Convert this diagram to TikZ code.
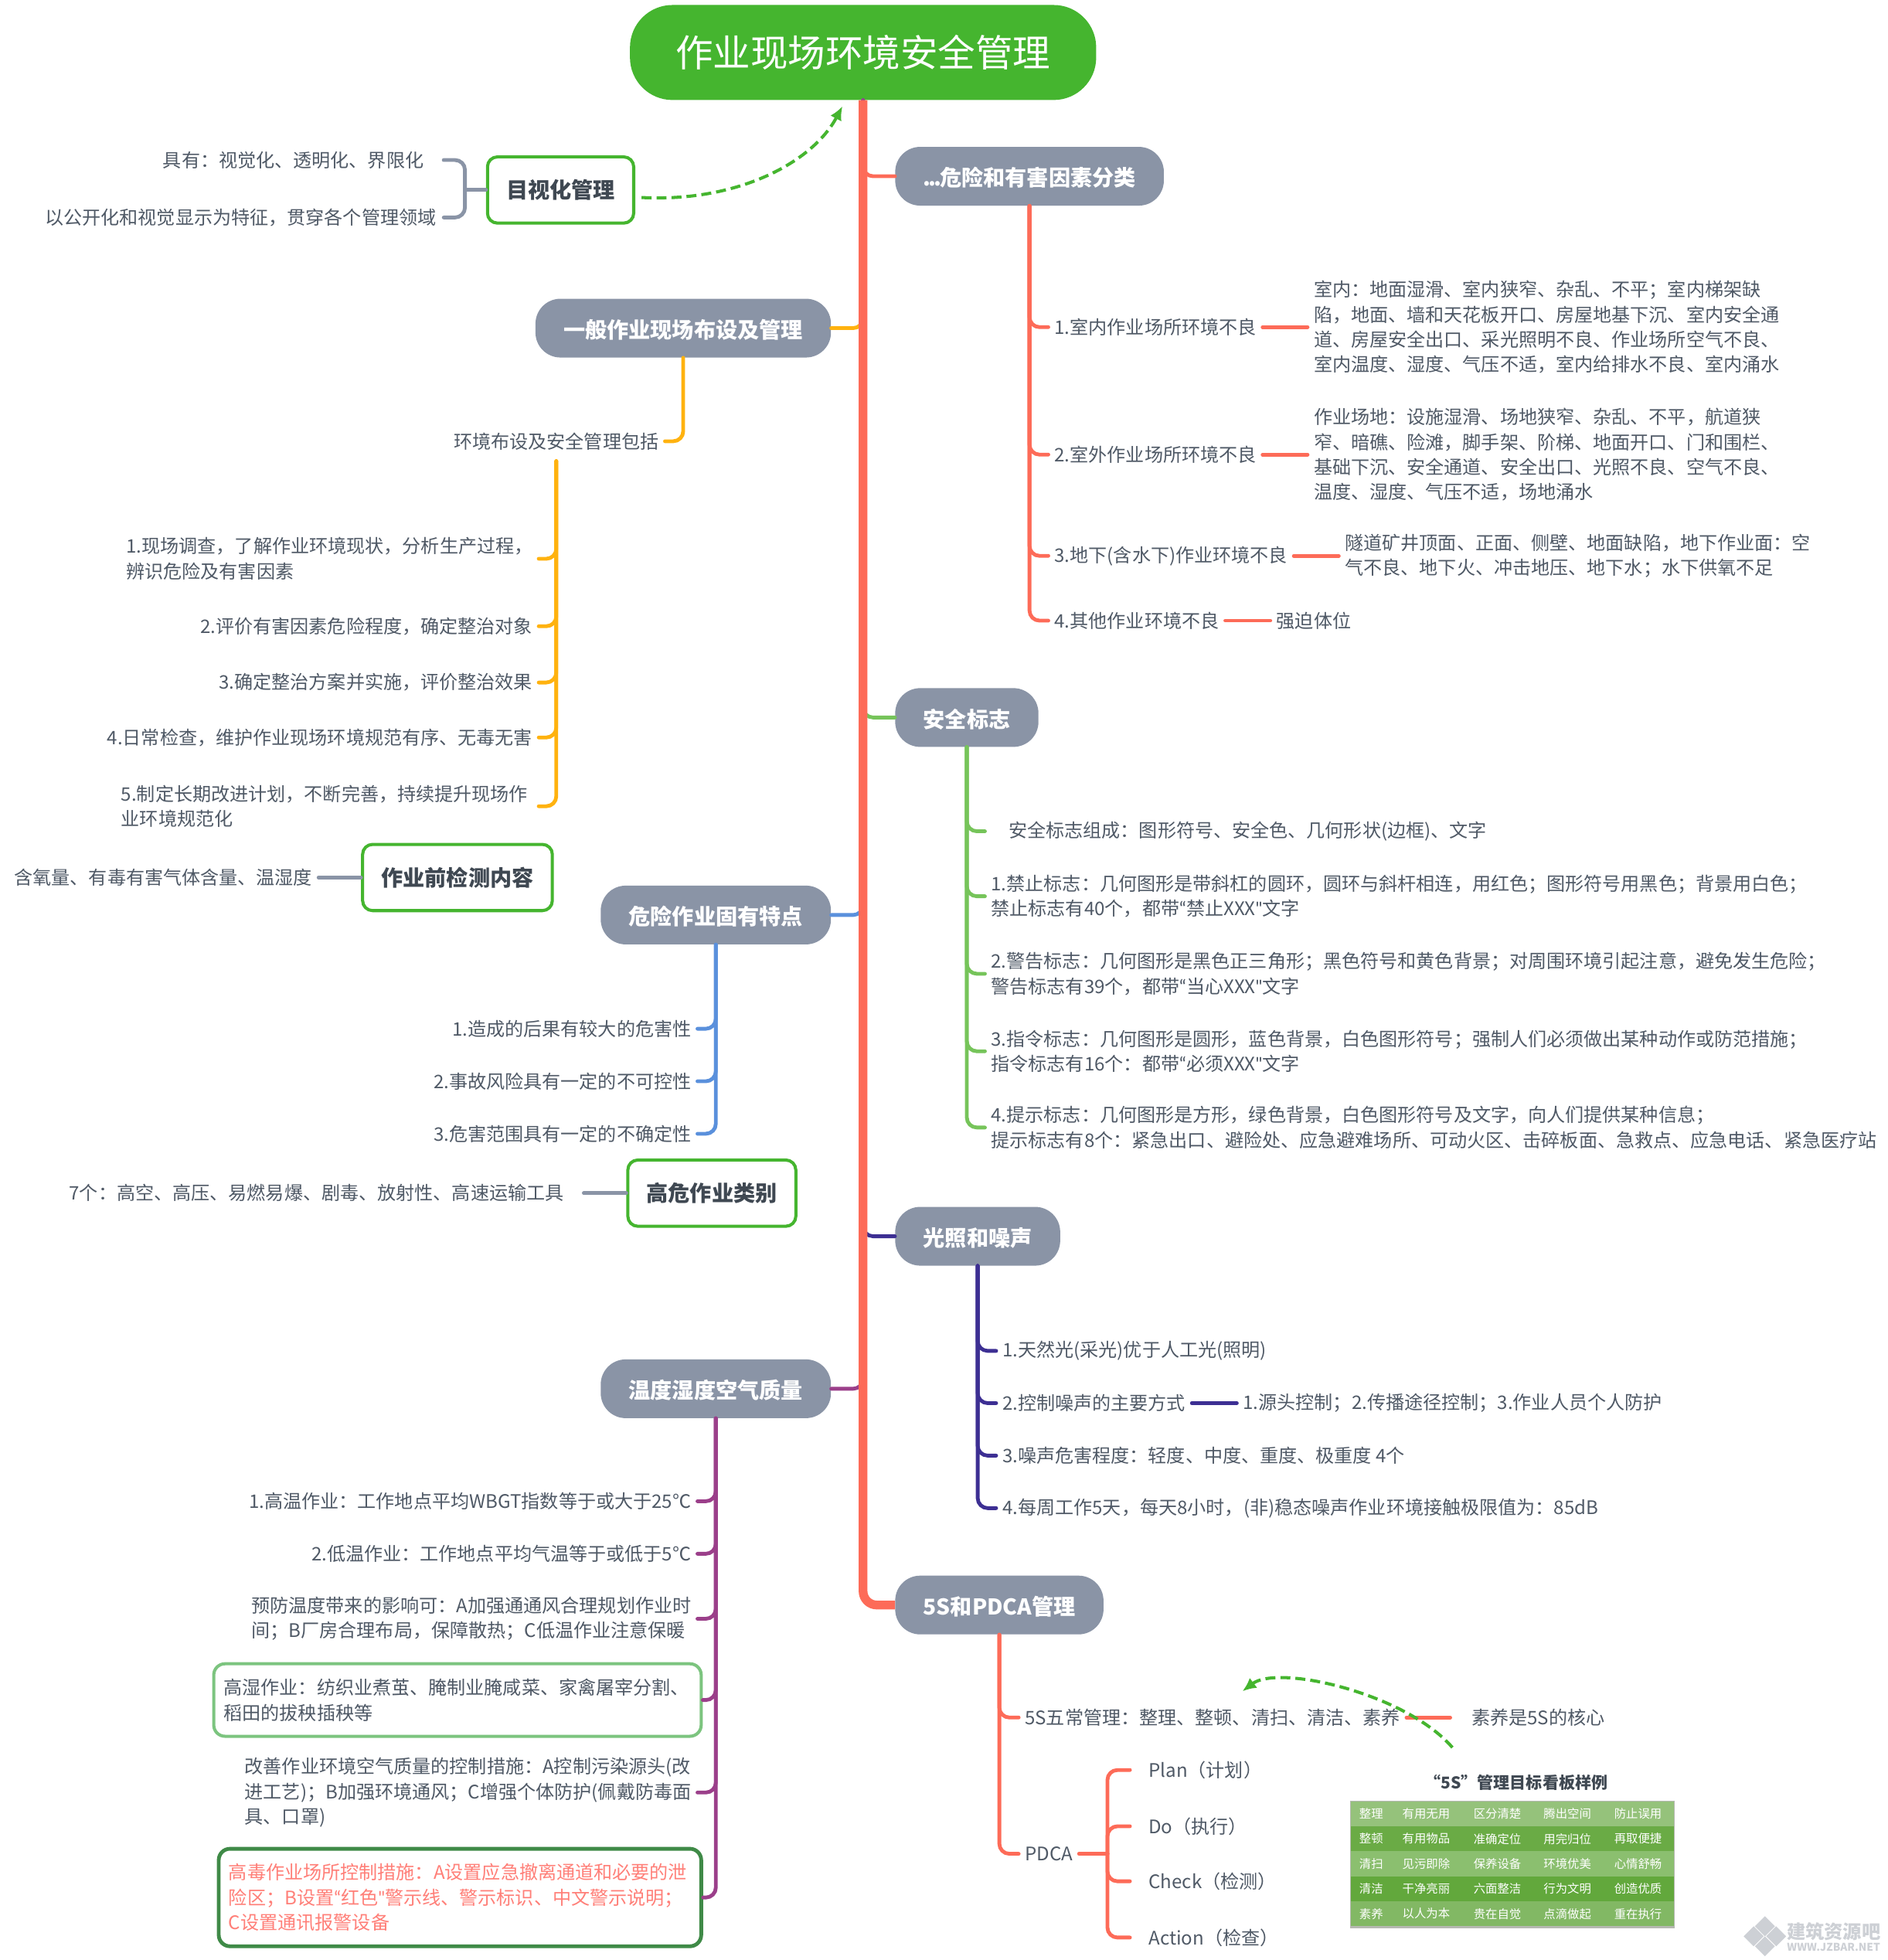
\documentclass[tikz,border=0pt]{standalone}
\usepackage{fontspec}
\setmainfont{Noto Sans CJK SC}
\newfontfamily\quotefont{Lato}
\newcommand{\openmark}{{\quotefont “}}
\newcommand{\closemark}{{\quotefont "}}
\usetikzlibrary{arrows.meta,positioning}

\definecolor{rootgreen}{HTML}{45B52F}
\definecolor{topicgray}{HTML}{8A94A6}
\definecolor{inktext}{HTML}{4F5966}
\definecolor{inkdark}{HTML}{3F4852}
\definecolor{trunkred}{HTML}{FD6B58}
\definecolor{linkorange}{HTML}{FFB20F}
\definecolor{linkgreen}{HTML}{76C45A}
\definecolor{linkblue}{HTML}{5A90DC}
\definecolor{linknavy}{HTML}{3D2F93}
\definecolor{linkpurple}{HTML}{9B3F8A}
\definecolor{wetframe}{HTML}{7CC47F}
\definecolor{toxframe}{HTML}{3F8A47}
\definecolor{toxtext}{HTML}{FF7F78}
\definecolor{boardedge}{HTML}{B5B8B0}
\definecolor{markgray}{HTML}{CDD0D5}

\begin{document}
\begin{tikzpicture}[
		x=1pt, y=-1pt,
		node distance=36pt,
		rootnode/.style={fill=rootgreen, text=white, rounded corners=34pt, minimum width=373pt, minimum height=76pt, font=\fontsize{30}{36}\selectfont},
		topicnode/.style={fill=topicgray, text=white, rounded corners=20pt, inner xsep=22.5pt, inner ysep=0pt, minimum height=47pt, text height=18pt, text depth=2pt, font=\bfseries\fontsize{17.4}{21}\selectfont},
		labelbox/.style={draw=rootgreen, line width=2.5pt, fill=white, text=inkdark, rounded corners=8pt, inner xsep=15pt, inner ysep=0pt, minimum height=53pt, font=\bfseries\fontsize{17.4}{21}\selectfont},
		leafnote/.style={inner sep=0pt, outer sep=5pt, align=left, text=inktext, font=\fontsize{14.9}{20}\selectfont},
		framenote/.style={rounded corners=9pt, fill=white, inner xsep=8pt, inner ysep=0pt, align=left, font=\fontsize{14.9}{20}\selectfont},
		branch/.style={line width=3pt, rounded corners=8pt, line cap=round},
		detaillink/.style={line width=3pt, line cap=round},
		trunk/.style={line width=7pt, trunkred, rounded corners=11pt},
		relation/.style={line width=2.5pt, rootgreen, dash pattern=on 8pt off 4pt, -{Latex[length=11pt,width=10pt]}},
		boardrow/.style={minimum width=258pt, minimum height=20pt, inner sep=0pt},
		boardcell/.style={inner sep=0pt, text=white, font=\fontsize{9.5}{11}\selectfont}
	]
	\useasboundingbox (0,0) rectangle (1510,1568);

	\node[rootnode] (root) at (690.5,42) {作业现场环境安全管理};

	\node[labelbox] (visual) at (448.5,152) {目视化管理};
	\node[leafnote, anchor=east, outer xsep=16pt] (visualone) at (355,128) {具有：视觉化、透明化、界限化};
	\node[leafnote, anchor=east, outer xsep=6pt] (visualtwo) at (355,174) {以公开化和视觉显示为特征，贯穿各个管理领域};
	\coordinate (visualjoin) at (372,152);

	\node[topicnode, anchor=east] (general) at (665,262.5) {一般作业现场布设及管理};
	\node[leafnote, anchor=east, outer ysep=9pt] (generalmain) at (532,353) {环境布设及安全管理包括};
	\node[leafnote, anchor=east, text width=325pt] (generalone) at (431,447) {1.现场调查，了解作业环境现状，分析生产过程，\\辨识危险及有害因素};
	\node[leafnote, anchor=east] (generaltwo) at (431,501) {2.评价有害因素危险程度，确定整治对象};
	\node[leafnote, anchor=east] (generalthree) at (431,546) {3.确定整治方案并实施，评价整治效果};
	\node[leafnote, anchor=east] (generalfour) at (431,590) {4.日常检查，维护作业现场环境规范有序、无毒无害};
	\node[leafnote, anchor=east, text width=329pt] (generalfive) at (431,645) {5.制定长期改进计划，不断完善，持续提升现场作\\业环境规范化};

	\node[labelbox] (precheck) at (366,702) {作业前检测内容};
	\node[leafnote, left=34pt of precheck] (prechecktext) {含氧量、有毒有害气体含量、温湿度};

	\node[topicnode, anchor=east] (danger) at (665,732) {危险作业固有特点};
	\node[leafnote, anchor=east] (dangerone) at (558,823) {1.造成的后果有较大的危害性};
	\node[leafnote, anchor=east] (dangertwo) at (558,865) {2.事故风险具有一定的不可控性};
	\node[leafnote, anchor=east] (dangerthree) at (558,907) {3.危害范围具有一定的不确定性};

	\node[labelbox] (highrisk) at (569.5,954.5) {高危作业类别};
	\node[leafnote, outer xsep=16pt, left=34pt of highrisk] (highrisktext) {7个：高空、高压、易燃易爆、剧毒、放射性、高速运输工具};

	\node[topicnode, anchor=east] (climate) at (665,1111) {温度湿度空气质量};
	\node[leafnote, anchor=east] (climateone) at (558,1201) {1.高温作业：工作地点平均WBGT指数等于或大于25℃};
	\node[leafnote, anchor=east] (climatetwo) at (558,1243) {2.低温作业：工作地点平均气温等于或低于5℃};
	\node[leafnote, anchor=east] (climatethree) at (558,1295) {预防温度带来的影响可：A加强通通风合理规划作业时\\间；B厂房合理布局，保障散热；C低温作业注意保暖};
	\node[framenote, draw=wetframe, line width=2.5pt, text=inktext, text width=374pt, minimum height=58pt] (climatewet) at (366,1360) {高湿作业：纺织业煮茧、腌制业腌咸菜、家禽屠宰分割、\\稻田的拔秧插秧等};
	\node[leafnote, anchor=east] (climateair) at (558,1434) {改善作业环境空气质量的控制措施：A控制污染源头(改\\进工艺)；B加强环境通风；C增强个体防护(佩戴防毒面\\具、口罩)};
	\node[framenote, draw=toxframe, line width=3pt, text=toxtext, text width=370pt, minimum height=78pt] (climatetox) at (368,1518) {高毒作业场所控制措施：A设置应急撤离通道和必要的泄\\险区；B设置\openmark 红色\closemark 警示线、警示标识、中文警示说明；\\C设置通讯报警设备};

	\node[topicnode, anchor=west] (hazard) at (716,141) {.\kern-2pt.\kern-2pt.\kern-1pt危险和有害因素分类};
	\node[leafnote, anchor=west] (hazardone) at (838.7,261.7) {1.室内作业场所环境不良};
	\node[leafnote, right=of hazardone] (hazardonetext) {室内：地面湿滑、室内狭窄、杂乱、不平；室内梯架缺\\陷，地面、墙和天花板开口、房屋地基下沉、室内安全通\\道、房屋安全出口、采光照明不良、作业场所空气不良、\\室内温度、湿度、气压不适，室内给排水不良、室内涌水};
	\node[leafnote, anchor=west] (hazardtwo) at (838.7,363.7) {2.室外作业场所环境不良};
	\node[leafnote, right=of hazardtwo] (hazardtwotext) {作业场地：设施湿滑、场地狭窄、杂乱、不平，航道狭\\窄、暗礁、险滩，脚手架、阶梯、地面开口、门和围栏、\\基础下沉、安全通道、安全出口、光照不良、空气不良、\\温度、湿度、气压不适，场地涌水};
	\node[leafnote, anchor=west] (hazardthree) at (838.7,444.7) {3.地下(含水下)作业环境不良};
	\node[leafnote, right=of hazardthree] (hazardthreetext) {隧道矿井顶面、正面、侧壁、地面缺陷，地下作业面：空\\气不良、地下火、冲击地压、地下水；水下供氧不足};
	\node[leafnote, anchor=west] (hazardfour) at (838.7,496.5) {4.其他作业环境不良};
	\node[leafnote, right=of hazardfour] (hazardfourtext) {强迫体位};

	\node[topicnode, anchor=west] (signs) at (716,574) {安全标志};
	\node[leafnote, anchor=west] (signsmain) at (788,665) {\hspace*{14pt}安全标志组成：图形符号、安全色、几何形状(边框)、文字};
	\node[leafnote, anchor=west] (signsone) at (788,717) {1.禁止标志：几何图形是带斜杠的圆环，圆环与斜杆相连，用红色；图形符号用黑色；背景用白色；\\禁止标志有40个，都带\openmark 禁止XXX\closemark 文字};
	\node[leafnote, anchor=west] (signstwo) at (788,779) {2.警告标志：几何图形是黑色正三角形；黑色符号和黄色背景；对周围环境引起注意，避免发生危险；\\警告标志有39个，都带\openmark 当心XXX\closemark 文字};
	\node[leafnote, anchor=west] (signsthree) at (788,841) {3.指令标志：几何图形是圆形，蓝色背景，白色图形符号；强制人们必须做出某种动作或防范措施；\\指令标志有16个：都带\openmark 必须XXX\closemark 文字};
	\node[leafnote, anchor=west] (signsfour) at (788,902) {4.提示标志：几何图形是方形，绿色背景，白色图形符号及文字，向人们提供某种信息；\\提示标志有8个：紧急出口、避险处、应急避难场所、可动火区、击碎板面、急救点、应急电话、紧急医疗站};

	\node[topicnode, anchor=west] (lighting) at (716,989) {光照和噪声};
	\node[leafnote, anchor=west] (lightingone) at (797,1080.7) {1.天然光(采光)优于人工光(照明)};
	\node[leafnote, anchor=west] (lightingtwo) at (797,1122.5) {2.控制噪声的主要方式};
	\node[leafnote, right=of lightingtwo] (lightingtwotext) {1.源头控制；2.传播途径控制；3.作业人员个人防护};
	\node[leafnote, anchor=west] (lightingthree) at (797,1164.5) {3.噪声危害程度：轻度、中度、重度、极重度 4个};
	\node[leafnote, anchor=west] (lightingfour) at (797,1206.5) {4.每周工作5天，每天8小时，(非)稳态噪声作业环境接触极限值为：85dB};

	\node[topicnode, anchor=west] (pdca) at (716,1284) {5S和PDCA管理};
	\node[leafnote, anchor=west] (pdcafive) at (815,1374) {5S五常管理：整理、整顿、清扫、清洁、素养};
	\node[leafnote, right=47pt of pdcafive] (pdcafivetext) {素养是5S的核心};
	\node[leafnote, anchor=west] (pdcamain) at (815,1483) {PDCA};
	\coordinate (pdcajoin) at (886,1483);
	\node[leafnote, anchor=west, outer xsep=15pt] (pdcaplan) at (904,1416) {Plan（计划）};
	\node[leafnote, anchor=west, outer xsep=15pt] (pdcado) at (904,1461) {Do（执行）};
	\node[leafnote, anchor=west, outer xsep=15pt] (pdcacheck) at (904,1505) {Check（检测）};
	\node[leafnote, anchor=west, outer xsep=15pt] (pdcaact) at (904,1550) {Action（检查）};

	\node[font=\bfseries\fontsize{13}{16}\selectfont, text=inkdark, inner sep=0pt] (boardtitle) at (1213,1426) {“5S”管理目标看板样例};
	\fill[boardedge] (1080,1440.5) rectangle (1340,1542.5);
	\foreach \rowname/\rowy/\rowfill/\cella/\cellb/\cellc/\celld/\celle in {
		a/1451/95C27B/整理/有用无用/区分清楚/腾出空间/防止误用,
		b/1471/6AAB45/整顿/有用物品/准确定位/用完归位/再取便捷,
		c/1491/8BBF6F/清扫/见污即除/保养设备/环境优美/心情舒畅,
		d/1511/62A83C/清洁/干净亮丽/六面整洁/行为文明/创造优质,
		e/1531/82B864/素养/以人为本/贵在自觉/点滴做起/重在执行} {
		\definecolor{rowtint}{HTML}{\rowfill}
		\node[boardrow, fill=rowtint] (row\rowname) at (1210,\rowy) {};
		\foreach \cellx/\celltext [count=\cellno] in {1097/\cella, 1141/\cellb, 1198/\cellc, 1254/\celld, 1310.5/\celle}
			\node[boardcell] (cell\rowname\cellno) at (\cellx,\rowy) {\celltext};
	}

	\foreach \markx/\marky in {1412/1541, 1403/1549, 1421/1549, 1412/1557}
		\fill[markgray] (\markx,\marky-8) -- (\markx+8,\marky) -- (\markx,\marky+8) -- (\markx-8,\marky) -- cycle;
	\node[font=\bfseries\fontsize{15}{17}\selectfont, text=markgray, inner sep=0pt] (marktitle) at (1467,1545) {建筑资源吧};
	\node[font=\bfseries\fontsize{8.5}{10}\selectfont, text=markgray, inner sep=0pt] (markurl) at (1467,1558) {WWW.JZBAR.NET};

	\draw[branch, linkorange] (root.south) |- (general.east);
	\draw[branch, trunkred] (root.south) |- (hazard.west);
	\draw[branch, linkgreen] (root.south) |- (signs.west);
	\draw[branch, linkblue] (root.south) |- (danger.east);
	\draw[branch, linknavy] (root.south) |- (lighting.west);
	\draw[branch, linkpurple] (root.south) |- (climate.east);
	\draw[trunk] (root.south) |- (pdca.west);

	\draw[detaillink, topicgray] (visual.west) -- (visualjoin);
	\draw[branch, topicgray] (visualjoin) |- (visualone.east);
	\draw[branch, topicgray] (visualjoin) |- (visualtwo.east);

	\draw[branch, linkorange] (general.south) |- (generalmain.east);
	\foreach \itemname in {generalone, generaltwo, generalthree, generalfour, generalfive}
		\draw[branch, linkorange] (generalmain.south) |- (\itemname.east);

	\draw[detaillink, topicgray] (precheck.west) -- (prechecktext.east);
	\draw[detaillink, topicgray] (highrisk.west) -- (highrisktext.east);

	\foreach \itemname in {dangerone, dangertwo, dangerthree}
		\draw[branch, linkblue] (danger.south) |- (\itemname.east);

	\foreach \itemname in {climateone, climatetwo, climatethree, climatewet, climateair, climatetox}
		\draw[branch, linkpurple] (climate.south) |- (\itemname.east);

	\foreach \itemname in {hazardone, hazardtwo, hazardthree, hazardfour} {
		\draw[branch, trunkred] (hazard.south) |- (\itemname.west);
		\draw[detaillink, trunkred] (\itemname.east) -- (\itemname text.west);
	}

	\foreach \itemname in {signsmain, signsone, signstwo, signsthree, signsfour}
		\draw[branch, linkgreen] (signs.south) |- (\itemname.west);

	\foreach \itemname in {lightingone, lightingtwo, lightingthree, lightingfour}
		\draw[branch, linknavy] (lighting.south) |- (\itemname.west);
	\draw[detaillink, linknavy] (lightingtwo.east) -- (lightingtwotext.west);

	\draw[branch, trunkred] (pdca.south) |- (pdcafive.west);
	\draw[branch, trunkred] (pdca.south) |- (pdcamain.west);
	\draw[detaillink, trunkred] (pdcafive.east) -- ++(35,0) coordinate (pdcafiveend);
	\draw[detaillink, trunkred] (pdcamain.east) -- (pdcajoin);
	\foreach \itemname in {pdcaplan, pdcado, pdcacheck, pdcaact}
		\draw[branch, trunkred] (pdcajoin) |- (\itemname.west);

	\coordinate (roottip) at (674,85);
	\coordinate (boardtip) at (1162,1398);
	\coordinate (fivetip) at (994,1353);
	\draw[relation] ([xshift=5pt,yshift=-6pt]visual.east) .. controls (590,162) and (650,130) .. (roottip);
	\draw[relation] (boardtip) .. controls (1125,1355) and (1023,1331) .. (fivetip);
\end{tikzpicture}
\end{document}
